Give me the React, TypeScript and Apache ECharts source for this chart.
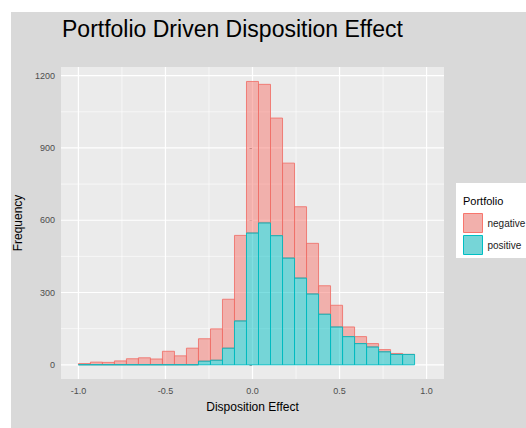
import React, { useEffect, useRef } from "react";
import * as echarts from "echarts";

// Histogram bins (ggplot default 30 bins on [-1, 1], width 2/29)
const binStart = -1;
const binWidth = 2 / 29;
const negativeCounts = [5, 11, 10, 16, 25, 29, 24, 56, 37, 69, 93, 130, 203, 355, 629, 575, 488, 394, 296, 210, 118, 90, 40, 29, 14, 9, 4, 0];
const positiveCounts = [0, 0, 0, 0, 0, 0, 0, 0, 0, 0, 15, 19, 69, 182, 547, 589, 536, 443, 360, 294, 210, 157, 117, 88, 74, 54, 43, 43];
const seriesNames = ["negative", "positive"];

const xTicks = [-1, -0.5, 0, 0.5, 1];
const xMinorTicks = [-0.75, -0.25, 0.25, 0.75];
const yTicks = [0, 300, 600, 900, 1200];
const yMinorTicks = [150, 450, 750, 1050];

const X_MIN = -1.1;
const X_MAX = 1.1;
const Y_MIN = -59;
const Y_MAX = 1236;

const FONT = "'Liberation Sans', Arial, sans-serif";

const PINK_FILL = "rgba(248,118,109,0.5)";
const PINK_LINE = "rgba(240,112,104,0.85)";
const TEAL_FILL = "rgba(0,191,196,0.5)";
const TEAL_LINE = "rgba(0,186,192,0.9)";

export default function App() {
  const ref = useRef<HTMLDivElement | null>(null);

  useEffect(() => {
    if (!ref.current) return;
    const chart = echarts.init(ref.current, undefined, { renderer: "svg" });

    const negData = negativeCounts.map((n, i) => {
      const x0 = binStart + i * binWidth;
      const p = positiveCounts[i];
      return [x0, x0 + binWidth, p, p + n];
    });
    const posData = positiveCounts.map((p, i) => {
      const x0 = binStart + i * binWidth;
      return [x0, x0 + binWidth, 0, p];
    });

    const barRenderer = (fill: string, stroke: string) => (params: any, api: any) => {
      const a = api.coord([api.value(0), api.value(3)]);
      const b = api.coord([api.value(1), api.value(2)]);
      return {
        type: "rect",
        shape: { x: a[0], y: a[1], width: b[0] - a[0], height: b[1] - a[1] },
        style: { fill, stroke, lineWidth: 1 },
      };
    };

    const vLine = (width: number) => (params: any, api: any) => {
      const cs = params.coordSys;
      const x = api.coord([api.value(0), 0])[0];
      return {
        type: "line",
        shape: { x1: x, y1: cs.y, x2: x, y2: cs.y + cs.height },
        style: { stroke: "#FFFFFF", lineWidth: width },
        silent: true,
      };
    };
    const hLine = (width: number) => (params: any, api: any) => {
      const cs = params.coordSys;
      const y = api.coord([0, api.value(1)])[1];
      return {
        type: "line",
        shape: { x1: cs.x, y1: y, x2: cs.x + cs.width, y2: y },
        style: { stroke: "#FFFFFF", lineWidth: width },
        silent: true,
      };
    };

    chart.setOption({
      animation: false,
      backgroundColor: "#FFFFFF",
      textStyle: { fontFamily: FONT },
      title: {
        text: "Portfolio Driven Disposition Effect",
        left: 62,
        top: 17,
        padding: 0,
        textStyle: { fontSize: 23, fontWeight: "normal", color: "#000000", fontFamily: FONT },
      },
      graphic: [
        {
          type: "rect",
          z: -100,
          silent: true,
          shape: { x: 11, y: 12, width: 515, height: 416 },
          style: { fill: "#D9D9D9" },
        },
        {
          type: "rect",
          z: 1,
          silent: true,
          shape: { x: 456, y: 183, width: 80, height: 75 },
          style: { fill: "#FFFFFF" },
        },
        {
          type: "text",
          z: 2,
          silent: true,
          x: 463,
          y: 201,
          style: {
            text: "Portfolio",
            fontSize: 11,
            fontFamily: FONT,
            fill: "#000000",
            verticalAlign: "middle",
          },
        },
      ],
      legend: {
        orient: "vertical",
        left: 463,
        top: 213,
        itemWidth: 19,
        itemHeight: 19,
        itemGap: 2,
        padding: 0,
        selectedMode: false,
        textStyle: { fontSize: 10, color: "#1A1A1A", fontFamily: FONT },
        data: [
          { name: seriesNames[0], icon: "rect", itemStyle: { color: "#F2B0AC", borderColor: "#F8766D", borderWidth: 1 } },
          { name: seriesNames[1], icon: "rect", itemStyle: { color: "#76D5D7", borderColor: "#00BFC4", borderWidth: 1 } },
        ],
      },
      grid: {
        left: 61,
        top: 67,
        width: 383,
        height: 312,
        show: true,
        backgroundColor: "#EBEBEB",
        borderWidth: 0,
        containLabel: false,
      },
      xAxis: {
        type: "value",
        min: X_MIN,
        max: X_MAX,
        name: "Disposition Effect",
        nameLocation: "middle",
        nameGap: 22,
        nameTextStyle: { fontSize: 12, color: "#000000", fontFamily: FONT },
        axisLine: { show: false },
        axisTick: { show: true, customValues: xTicks, length: 3, lineStyle: { color: "#333333", width: 1 } },
        axisLabel: {
          customValues: xTicks,
          formatter: (v: number) => v.toFixed(1),
          fontSize: 9,
          color: "#4D4D4D",
          margin: 7,
          fontFamily: FONT,
        },
        splitLine: { show: false },
      },
      yAxis: {
        type: "value",
        min: Y_MIN,
        max: Y_MAX,
        name: "Frequency",
        nameLocation: "middle",
        nameGap: 25,
        nameTextStyle: { fontSize: 12, color: "#000000", fontFamily: FONT },
        axisLine: { show: false },
        axisTick: { show: true, customValues: yTicks, length: 3, lineStyle: { color: "#333333", width: 1 } },
        axisLabel: {
          customValues: yTicks,
          formatter: (v: number) => String(v),
          fontSize: 9,
          color: "#4D4D4D",
          margin: 6,
          fontFamily: FONT,
        },
        splitLine: { show: false },
      },
      series: [
        {
          name: "xMinorGrid",
          type: "custom",
          z: 1,
          silent: true,
          renderItem: vLine(0.6),
          data: xMinorTicks.map((v) => [v, 0]),
          encode: { x: 0, y: 1 },
        },
        {
          name: "yMinorGrid",
          type: "custom",
          z: 1,
          silent: true,
          renderItem: hLine(0.6),
          data: yMinorTicks.map((v) => [0, v]),
          encode: { x: 0, y: 1 },
        },
        {
          name: "xMajorGrid",
          type: "custom",
          z: 1,
          silent: true,
          renderItem: vLine(1.2),
          data: xTicks.map((v) => [v, 0]),
          encode: { x: 0, y: 1 },
        },
        {
          name: "yMajorGrid",
          type: "custom",
          z: 1,
          silent: true,
          renderItem: hLine(1.2),
          data: yTicks.map((v) => [0, v]),
          encode: { x: 0, y: 1 },
        },
        {
          name: seriesNames[0],
          type: "custom",
          z: 3,
          renderItem: barRenderer(PINK_FILL, PINK_LINE),
          itemStyle: { color: "#F2B0AC", borderColor: "#F8766D" },
          data: negData,
          encode: { x: [0, 1], y: [2, 3] },
        },
        {
          name: seriesNames[1],
          type: "custom",
          z: 4,
          renderItem: barRenderer(TEAL_FILL, TEAL_LINE),
          itemStyle: { color: "#76D5D7", borderColor: "#00BFC4" },
          data: posData,
          encode: { x: [0, 1], y: [2, 3] },
        },
      ],
    });

    return () => chart.dispose();
  }, []);

  return (
    <div
      ref={ref}
      style={{ position: "absolute", left: 0, top: 0, width: 526, height: 428 }}
    />
  );
}
